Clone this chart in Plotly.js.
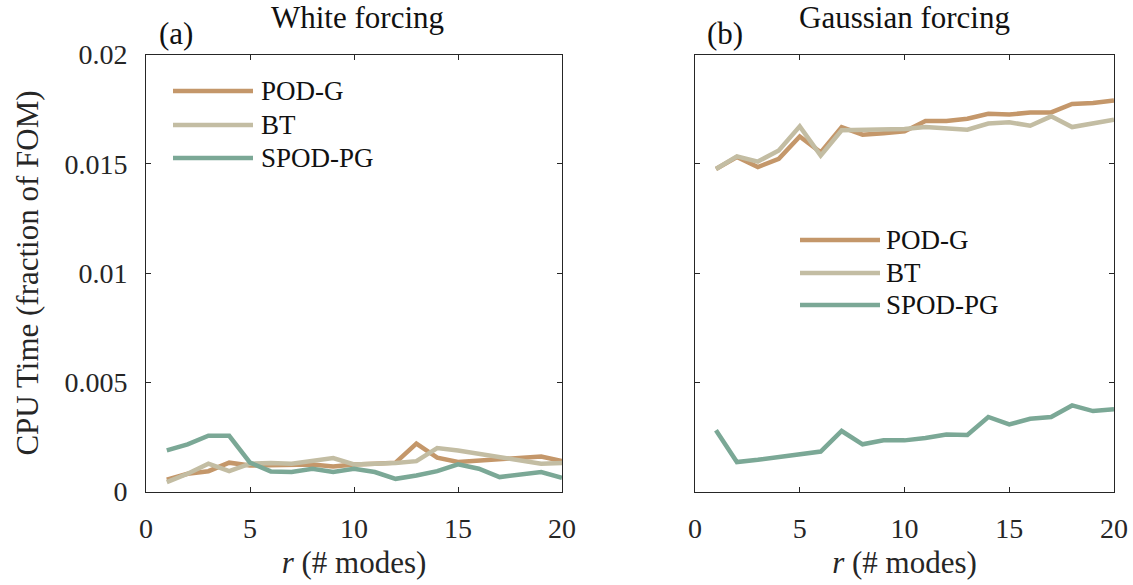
<!DOCTYPE html>
<html>
<head>
<meta charset="utf-8">
<script src="https://cdn.plot.ly/plotly-3.0.1.min.js"></script>
<style>html,body{margin:0;padding:0;background:#fff;}#chart{width:1133px;height:585px;}</style>
</head>
<body>
<div id="chart"></div>
<script>
// ---- data ----
const modes = [1,2,3,4,5,6,7,8,9,10,11,12,13,14,15,16,17,18,19,20];
const seriesNames = ['POD-G', 'BT', 'SPOD-PG'];
const seriesColors = ['#C4976A', '#C3BDA3', '#7BA896'];

// (a) White forcing
const whitePODG  = [0.00054,0.00081,0.00093,0.00132,0.00119,0.00119,0.00119,0.00124,0.00115,0.00124,0.00127,0.00132,0.00219,0.00155,0.00135,0.00142,0.00150,0.00157,0.00160,0.00139];
const whiteBT    = [0.00043,0.00081,0.00127,0.00093,0.00127,0.00130,0.00127,0.00142,0.00153,0.00124,0.00127,0.00130,0.00139,0.00199,0.00188,0.00173,0.00157,0.00147,0.00127,0.00130];
const whiteSPOD  = [0.00188,0.00216,0.00255,0.00255,0.00132,0.00092,0.00089,0.00104,0.00089,0.00104,0.00089,0.00058,0.00073,0.00093,0.00124,0.00104,0.00066,0.00078,0.00089,0.00063];

// (b) Gaussian forcing
const gaussPODG  = [0.01476,0.01531,0.01485,0.01523,0.01625,0.01552,0.01668,0.01633,0.01640,0.01648,0.01696,0.01696,0.01706,0.01729,0.01725,0.01735,0.01735,0.01774,0.01778,0.01790];
const gaussBT    = [0.01476,0.01534,0.01510,0.01561,0.01671,0.01537,0.01653,0.01656,0.01656,0.01659,0.01668,0.01664,0.01656,0.01684,0.01690,0.01674,0.01717,0.01668,0.01686,0.01702];
const gaussSPOD  = [0.00280,0.00135,0.00145,0.00157,0.00173,0.00183,0.00277,0.00216,0.00234,0.00234,0.00245,0.00261,0.00259,0.00341,0.00307,0.00333,0.00341,0.00394,0.00368,0.00376];

const xTicks = [0,5,10,15,20];
const yTickVals = [0,0.005,0.01,0.015,0.02];
const yTickText = ['0','0.005','0.01','0.015','0.02'];
const panelTitles = ['White forcing', 'Gaussian forcing'];
const panelLabels = ['(a)', '(b)'];
const xTitle = '<i>r</i> (# modes)';
const yTitle = 'CPU Time (fraction of FOM)';

// ---- build ----
const W = 1133, H = 585;
const FONT = '"Liberation Serif", "DejaVu Serif", serif';
const TXT = '#262626';
const panelA = [whitePODG, whiteBT, whiteSPOD];
const panelB = [gaussPODG, gaussBT, gaussSPOD];
const traces = [];
panelA.forEach((ys, i) => traces.push({
  x: modes, y: ys, type: 'scatter', mode: 'lines', name: seriesNames[i],
  line: {color: seriesColors[i], width: 4.5}, xaxis: 'x', yaxis: 'y', showlegend: false
}));
panelB.forEach((ys, i) => traces.push({
  x: modes, y: ys, type: 'scatter', mode: 'lines', name: seriesNames[i],
  line: {color: seriesColors[i], width: 4.5}, xaxis: 'x2', yaxis: 'y2', showlegend: false
}));

function xax(domain, anchor) {
  return {
    domain: domain, anchor: anchor, range: [0, 20], tickvals: xTicks,
    ticks: 'inside', ticklen: 5, tickcolor: TXT, tickwidth: 1,
    showline: true, linecolor: TXT, linewidth: 1, mirror: 'ticks',
    showgrid: false, zeroline: false, ticklabelstandoff: 12,
    tickfont: {family: FONT, size: 28, color: TXT},
    title: {text: xTitle, font: {family: FONT, size: 31, color: TXT}, standoff: 8}
  };
}
function yax(domain, anchor, labels) {
  return {
    domain: domain, anchor: anchor, range: [0, 0.02], tickvals: yTickVals, ticktext: yTickText,
    showticklabels: labels,
    ticks: 'inside', ticklen: 5, tickcolor: TXT, tickwidth: 1,
    showline: true, linecolor: TXT, linewidth: 1, mirror: 'ticks',
    showgrid: false, zeroline: false, ticklabelstandoff: 12,
    tickfont: {family: FONT, size: 28, color: TXT},
    title: labels ? {text: yTitle, font: {family: FONT, size: 31, color: TXT}, standoff: 16} : {text: ''}
  };
}

// hand-made legends (long sample lines, as in the reference)
const shapes = [];
const annotations = [];
function addLegend(x0, x1, xText, rowsY) {
  seriesNames.forEach((nm, i) => {
    shapes.push({type: 'line', xref: 'paper', yref: 'paper',
      x0: x0 / W, x1: x1 / W, y0: 1 - rowsY[i] / H, y1: 1 - rowsY[i] / H,
      line: {color: seriesColors[i], width: 4.5}});
    annotations.push({text: nm, xref: 'paper', yref: 'paper', x: xText / W, y: 1 - rowsY[i] / H,
      xanchor: 'left', yanchor: 'middle', showarrow: false,
      font: {family: FONT, size: 27, color: '#111'}});
  });
}
addLegend(173, 253, 259, [91, 125, 158]);
addLegend(800, 880, 884, [240, 273, 305]);

const titleFont = {family: FONT, size: 31, color: '#111'};
annotations.push(
  {text: panelTitles[0], xref: 'paper', yref: 'paper', x: 357 / W, y: 1 - 17 / H, xanchor: 'center', yanchor: 'middle', showarrow: false, font: titleFont},
  {text: panelTitles[1], xref: 'paper', yref: 'paper', x: 905 / W, y: 1 - 17 / H, xanchor: 'center', yanchor: 'middle', showarrow: false, font: titleFont},
  {text: panelLabels[0], xref: 'paper', yref: 'paper', x: 176 / W, y: 1 - 33 / H, xanchor: 'center', yanchor: 'middle', showarrow: false, font: titleFont},
  {text: panelLabels[1], xref: 'paper', yref: 'paper', x: 725 / W, y: 1 - 33 / H, xanchor: 'center', yanchor: 'middle', showarrow: false, font: titleFont}
);

const yDom = [1 - 491.5 / H, 1 - 54.5 / H];
const layout = {
  width: W, height: H,
  margin: {l: 0, r: 0, t: 0, b: 0},
  paper_bgcolor: '#fff', plot_bgcolor: '#fff',
  font: {family: FONT, color: TXT},
  xaxis: xax([146 / W, 562 / W], 'y'),
  yaxis: yax(yDom, 'x', true),
  xaxis2: xax([695 / W, 1114 / W], 'y2'),
  yaxis2: yax(yDom, 'x2', false),
  shapes: shapes,
  annotations: annotations,
  showlegend: false
};

Plotly.newPlot('chart', traces, layout, {displayModeBar: false, staticPlot: true});
</script>
</body>
</html>
